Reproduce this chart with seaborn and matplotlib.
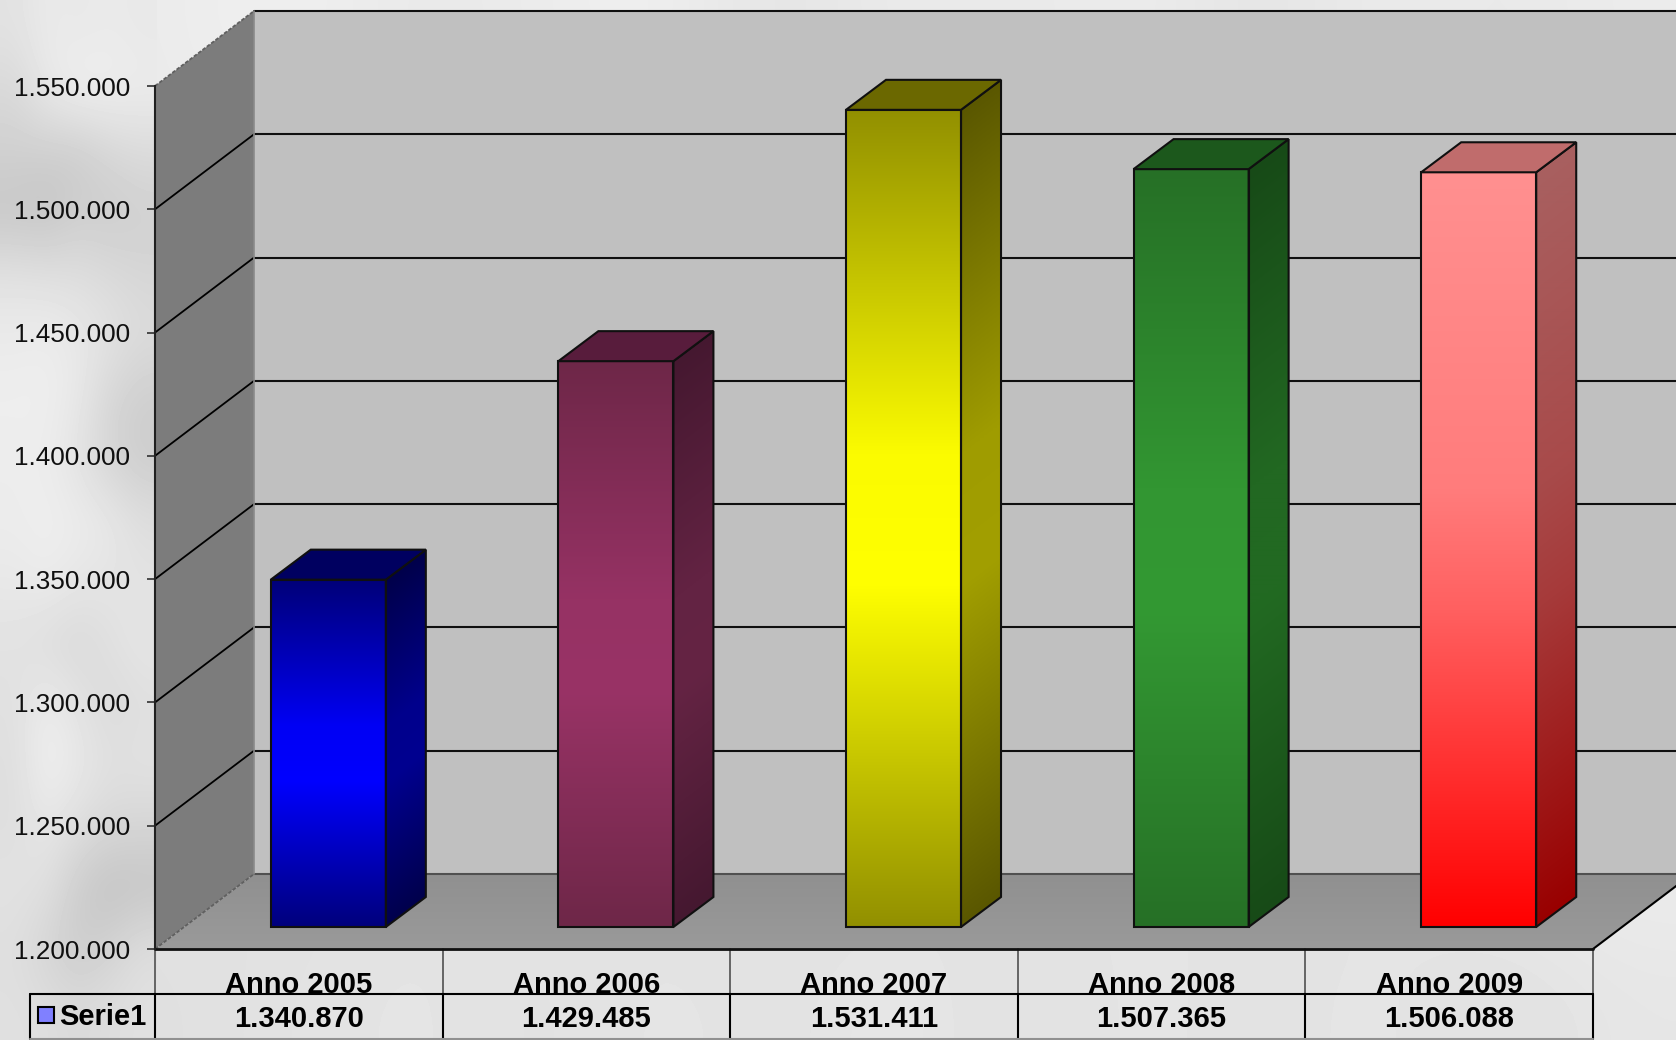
import numpy as np
import pandas as pd
import matplotlib
matplotlib.use("Agg")
import matplotlib.pyplot as plt
from matplotlib.colors import to_rgb
from matplotlib.patches import Polygon, Rectangle
from matplotlib.lines import Line2D
from matplotlib.transforms import IdentityTransform
from matplotlib.ticker import FuncFormatter
import seaborn as sns

# ---- data ----
YEARS = ["Anno 2005", "Anno 2006", "Anno 2007", "Anno 2008", "Anno 2009"]
VALUES = [1340870, 1429485, 1531411, 1507365, 1506088]
SERIES = "Serie1"
Y_TICKS = [1200000, 1250000, 1300000, 1350000, 1400000, 1450000, 1500000, 1550000]

# top -> upper middle -> lower middle -> bottom colours of each face
FRONT = [["#000078", "#0000f4", "#0000ff", "#00007c"],
         ["#6e2748", "#963264", "#993366", "#6e2748"],
         ["#929000", "#fbfb00", "#ffff00", "#929000"],
         ["#267026", "#329632", "#339933", "#267026"],
         ["#ff9090", "#ff7c7c", "#ff6060", "#ff0000"]]
SIDE = [["#00004a", "#00008c", "#000090", "#00004c"],
        ["#451830", "#632343", "#652444", "#451830"],
        ["#5a5700", "#9f9c00", "#a29f00", "#5a5700"],
        ["#174a17", "#226822", "#226a22", "#174a17"],
        ["#a86060", "#a84a4a", "#a63a3a", "#990000"]]
CAP = ["#000060", "#581c3c", "#6b6800", "#1c581c", "#c06c6c"]

# coarse marble backdrop (grey levels, read by eye from the margins)
BACKDROP = [
    [232, 236, 240, 232, 236, 240, 226, 236, 232, 238, 226, 236, 232, 236],
    [226, 236, 232, 232, 225, 232, 232, 225, 232, 225, 232, 232, 225, 232],
    [225, 225, 225, 225, 225, 225, 225, 225, 225, 225, 225, 225, 225, 225],
    [225, 225, 225, 225, 225, 225, 225, 225, 225, 225, 225, 225, 225, 225],
    [225, 225, 225, 225, 225, 225, 225, 225, 225, 225, 225, 225, 225, 225],
    [225, 225, 225, 225, 225, 225, 225, 225, 225, 225, 225, 225, 225, 225],
    [225, 225, 225, 225, 225, 225, 225, 225, 225, 225, 225, 225, 225, 225],
    [225, 225, 225, 225, 225, 225, 225, 225, 225, 228, 230, 228, 232, 230],
    [224, 226, 224, 228, 226, 228, 224, 228, 226, 230, 226, 228, 232, 236],
    [222, 224, 226, 230, 224, 230, 226, 232, 224, 230, 226, 230, 224, 230],
]
# finer backdrop of the margin to the left of the value axis
LEFT_STRIP = [
    [226, 234, 232, 234, 232],
    [216, 232, 240, 238, 236],
    [208, 206, 204, 214, 218],
    [198, 196, 206, 204, 208],
    [226, 224, 222, 218, 214],
    [234, 236, 232, 226, 220],
    [238, 238, 232, 214, 206],
    [236, 236, 226, 212, 204],
    [236, 238, 236, 232, 222],
    [232, 236, 230, 228, 226],
    [226, 220, 216, 224, 230],
    [224, 236, 226, 218, 222],
    [222, 240, 232, 224, 226],
    [222, 230, 222, 216, 214],
    [226, 224, 204, 194, 196],
    [222, 212, 204, 210, 222],
    [224, 222, 218, 222, 224],
]

W, H = 1676, 1040
sns.set_theme(style="white")
plt.rcParams["font.family"] = ["Liberation Sans", "DejaVu Sans"]

fig = plt.figure(figsize=(W / 100, H / 100), dpi=100)

bg = fig.add_axes([0, 0, 1, 1], zorder=-5)
bg.imshow(np.array(BACKDROP), cmap="gray", vmin=0, vmax=255, aspect="auto", interpolation="bicubic",
          extent=(0, W, H, 0))
bg.imshow(np.array(LEFT_STRIP), cmap="gray", vmin=0, vmax=255, aspect="auto", interpolation="bicubic",
          extent=(0, 156, H, 0))
bg.set_xlim(0, W)
bg.set_ylim(H, 0)
bg.axis("off")

LEFT, RIGHT, BOTTOM, TOP = 155, 1593, 949, 86
ax = fig.add_axes([LEFT / W, (H - BOTTOM) / H, (RIGHT - LEFT) / W, (BOTTOM - TOP) / H], zorder=1)
ax.patch.set_visible(False)

df = pd.DataFrame({"anno": YEARS, "valore": VALUES})
sns.barplot(data=df, x="anno", y="valore", ax=ax, width=0.40, color="#8080ff", zorder=6)

ymin, ymax = Y_TICKS[0], Y_TICKS[-1]
ax.set_xlim(-0.5, 4.5)
ax.set_ylim(ymin, ymax)
ax.set_autoscale_on(False)
ax.set_xlabel("")
ax.set_ylabel("")
for s in ("top", "right", "bottom"):
    ax.spines[s].set_visible(False)
ax.spines["left"].set(color="#202020", linewidth=1.5, zorder=5)
ax.set_yticks(Y_TICKS)
ax.yaxis.set_major_formatter(FuncFormatter(lambda v, _: f"{int(v):,}".replace(",", ".")))
ax.tick_params(axis="y", labelsize=18.8, length=6, width=1.2, color="#303030", pad=12, labelcolor="#101010", left=True)
ax.tick_params(axis="x", length=0, pad=16)
for t in ax.get_xticklabels():
    t.set(fontsize=21, fontweight="bold", color="black", va="top", zorder=2)

fig.canvas.draw()
to_px = ax.transData.transform
DEPTH = np.array([99.0, 75.0])      # wall depth, pixels
SHIFT = np.array([29.5, 22.0])      # bars stand this far back of the front edge
BAR_D = np.array([40.0, 30.0])      # bar depth
STOP_POS = [0.0, 0.42, 0.58, 1.0]


def add_poly(pts, fc="none", ec="none", lw=0, z=1):
    p = Polygon(pts, closed=True, facecolor=fc, edgecolor=ec, linewidth=lw, transform=IdentityTransform(),
                zorder=z, clip_on=False, joinstyle="miter")
    ax.add_patch(p)
    return p


def ramp(stops, t, pos=None):
    c = np.array([to_rgb(s) for s in stops])
    pos = np.linspace(0, 1, len(stops)) if pos is None else pos
    return np.dstack([np.interp(t, pos, c[:, i]) for i in range(3)])


def shade(poly, rgb, z):
    pts = np.array(poly.get_xy())
    x0, y0 = pts.min(axis=0)
    x1, y1 = pts.max(axis=0)
    im = ax.imshow(rgb, extent=(x0, x1, y0, y1), origin="lower", aspect="auto", interpolation="bilinear", zorder=z)
    im.set_transform(IdentityTransform())
    im.set_clip_box(fig.bbox)
    im.set_clip_path(poly)
    return im


# walls and floor
fl, fb = to_px((-0.5, ymin))
fr, ft = to_px((4.5, ymax))
fl_b, fr_b = np.array([fl, fb]), np.array([fr, fb])
tl = np.array([fl, ft])
add_poly([fl_b + DEPTH, (W + 50, fb + DEPTH[1]), (W + 50, ft + DEPTH[1]), tl + DEPTH], fc="#c0c0c0", z=1)
add_poly([fl_b, fl_b + DEPTH, tl + DEPTH, tl], fc="#7c7c7c", z=1)
floor = add_poly([fl_b, fr_b, fr_b + DEPTH, fl_b + DEPTH], z=1.5)
shade(floor, ramp(["#9a9a9a", "#909090"], np.linspace(0, 1, 64)[:, None]), 1.5)

# grid on back and side walls, from the value axis
for v in Y_TICKS:
    _, y = to_px((0, v))
    col = "#606060" if v in (ymin, ymax) else "black"
    ls = (0, (2, 1)) if v in (ymin, ymax) else "-"
    ax.add_line(Line2D([fl, fl + DEPTH[0]], [y, y + DEPTH[1]], color=col, lw=1.3, ls=ls, transform=IdentityTransform(), zorder=2, clip_on=False))
    back = "#505050" if v == ymin else "#101010"
    ax.add_line(Line2D([fl + DEPTH[0], W + 50], [y + DEPTH[1]] * 2, color=back, lw=1.5, transform=IdentityTransform(), zorder=2, clip_on=False))
ax.add_line(Line2D([fl + DEPTH[0]] * 2, [fb + DEPTH[1], ft + DEPTH[1]], color="#8a8a8a", lw=1.2, transform=IdentityTransform(), zorder=2, clip_on=False))
ax.add_line(Line2D([fr, fr + DEPTH[0]], [fb, fb + DEPTH[1]], color="black", lw=1.5, transform=IdentityTransform(), zorder=4, clip_on=False))
ax.add_line(Line2D([fl, fr], [fb, fb], color="#101010", lw=2, transform=IdentityTransform(), zorder=4, clip_on=False))

# 3-D bars, built from the seaborn bar patches
for i, (bar, val) in enumerate(zip(ax.patches[:len(VALUES)], VALUES)):
    x, w = bar.get_x(), bar.get_width()
    a = to_px((x, ymin)) + SHIFT
    b = to_px((x + w, ymin)) + SHIFT
    c = to_px((x + w, val)) + SHIFT
    d = to_px((x, val)) + SHIFT
    bar.set_visible(False)
    front = add_poly([a, b, c, d], z=6)
    t = np.linspace(0, 1, 256)[:, None]
    shade(front, ramp(FRONT[i], 1 - t, STOP_POS), 6)
    add_poly([a, b, c, d], ec="#101010", lw=1.5, z=6.5)
    side_pts = [b, b + BAR_D, c + BAR_D, c]
    side = add_poly(side_pts, z=6)
    xs = np.linspace(0, 1, 40)
    ys = np.linspace(0, 1, 256)
    total = (c[1] + BAR_D[1]) - b[1]
    hh = c[1] - b[1]
    gy = (ys[:, None] * total - xs[None, :] * BAR_D[1]) / hh
    shade(side, ramp(SIDE[i], 1 - np.clip(gy, 0, 1), STOP_POS), 6)
    add_poly(side_pts, ec="#101010", lw=1.5, z=6.5)
    add_poly([d, c, c + BAR_D, d + BAR_D], fc=CAP[i], ec="#101010", lw=1.5, z=6.5)

# data table under the plot
ROW, END, LEG = H - 994, H - 1039, 30
for k in range(len(YEARS) + 1):
    xv = to_px((k - 0.5, ymin))[0]
    ax.add_line(Line2D([xv, xv], [fb, ROW], color="#505050", lw=1.2, transform=IdentityTransform(), clip_on=False, zorder=3))
    ax.add_line(Line2D([xv, xv], [ROW, END], color="black", lw=1.5, transform=IdentityTransform(), clip_on=False, zorder=3))
    if k < len(VALUES):
        xc = to_px((k, ymin))[0]
        ax.text(xc, H - 1019, f"{VALUES[k]:,}".replace(",", "."), transform=IdentityTransform(), ha="center", va="center",
                fontsize=21, fontweight="bold", color="black", clip_on=False)
ax.add_line(Line2D([LEG, fr], [ROW, ROW], color="black", lw=1.5, transform=IdentityTransform(), clip_on=False, zorder=3))
ax.add_line(Line2D([LEG, LEG], [ROW, END], color="black", lw=1.5, transform=IdentityTransform(), clip_on=False, zorder=3))
ax.add_line(Line2D([LEG, fr], [END, END], color="#909090", lw=1.5, transform=IdentityTransform(), clip_on=False, zorder=3))
ax.add_patch(Rectangle((38, H - 1023), 16, 16, facecolor="#8080ff", edgecolor="black", linewidth=1.5,
                       transform=IdentityTransform(), clip_on=False, zorder=3))
ax.text(59, H - 1017, SERIES, transform=IdentityTransform(), ha="left", va="center", fontsize=21, fontweight="bold",
        color="black", clip_on=False)

fig.savefig("out.png", dpi=100)
